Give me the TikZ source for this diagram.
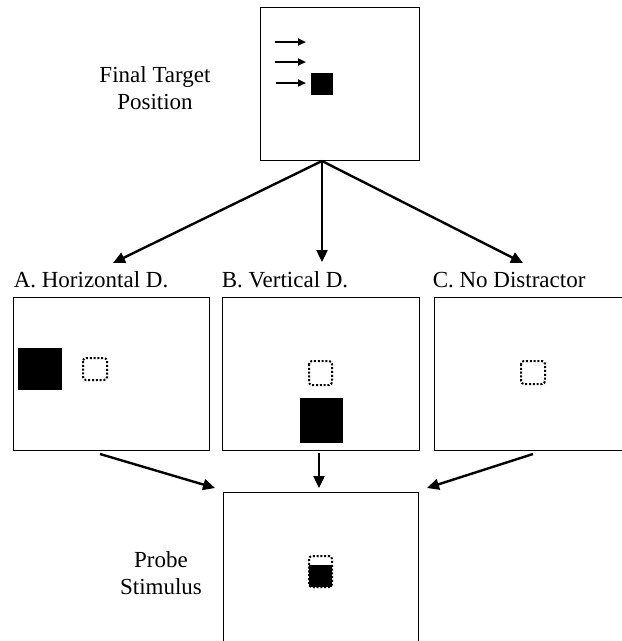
\documentclass[tikz,border=0pt]{standalone}
\usepackage{fontspec}
\setmainfont{Liberation Serif}
\usetikzlibrary{arrows.meta}

\begin{document}
\begin{tikzpicture}[x=1pt,y=-1pt,
    panel/.style={draw,line width=0.9pt,minimum height=153pt,inner sep=0pt},
    lab/.style={inner sep=0pt,font=\fontsize{23}{27}\selectfont},
    flow/.style={line width=2.4pt,-{Triangle[length=12pt,width=11pt]}},
    cue/.style={line width=2pt,-{Triangle[length=8pt,width=7pt]}},
    outline/.style={line width=2pt,dash pattern=on 2pt off 1.8pt,rounded corners=3pt}]
\useasboundingbox (0,0) rectangle (622,641);
\clip (0,0) rectangle (622,641);
% panels
\node[panel,minimum width=159pt] (final) at (339.5,83.5) {};
\node[panel,minimum width=196pt] (horiz) at (111,373.5) {};
\node[panel,minimum width=197pt] (vert) at (320.5,373.5) {};
\node[panel,minimum width=198pt] (nodist) at (533,373.5) {};
\node[panel,minimum width=195pt] (probe) at (320.5,568.5) {};
% labels
\node[lab,align=center] (finallab) at (155,88.5) {Final Target\\Position};
\node[lab,align=center] (probelab) at (161,572.7) {Probe\\Stimulus};
\node[lab,anchor=base west] (labA) at ([shift={(1pt,9pt)}]horiz.north west) {A. Horizontal D.};
\node[lab,anchor=base west] (labB) at ([yshift=9pt]vert.north west) {B. Vertical D.};
\node[lab,anchor=base west] (labC) at ([shift={(-1pt,9pt)}]nodist.north west) {C. No Distractor};
% final target position
\draw[cue] (275,42) -- (306,42);
\draw[cue] (275,62) -- (306,62);
\draw[cue] (276,83) -- (306,83);
\fill (311,73) rectangle (333,95);
% A. horizontal distractor
\fill (18,348) rectangle (62,390);
\draw[outline] (83,358) rectangle (107,380);
% B. vertical distractor
\draw[outline] (309,361) rectangle (332,385);
\fill (300,398) rectangle (343,443);
% C. no distractor
\draw[outline] (521,361) rectangle (545,384);
% probe
\fill (309,565) rectangle (332,587);
\draw[outline] (309,556) rectangle (332,587);
% connectors
\coordinate (fork) at (322,161);
\coordinate (tipA) at (113,263);
\coordinate (tipB) at (322,262);
\coordinate (tipC) at (523,263);
\draw[flow] (fork) -- (tipA);
\draw[flow] (fork) -- (tipB);
\draw[flow] (fork) -- (tipC);
\coordinate (outA) at (100,454);
\coordinate (outB) at (319,453);
\coordinate (outC) at (533,454);
\coordinate (inA) at (215,488);
\coordinate (inB) at (319,488);
\coordinate (inC) at (427,488);
\draw[flow] (outA) -- (inA);
\draw[flow] (outB) -- (inB);
\draw[flow] (outC) -- (inC);
\end{tikzpicture}
\end{document}
